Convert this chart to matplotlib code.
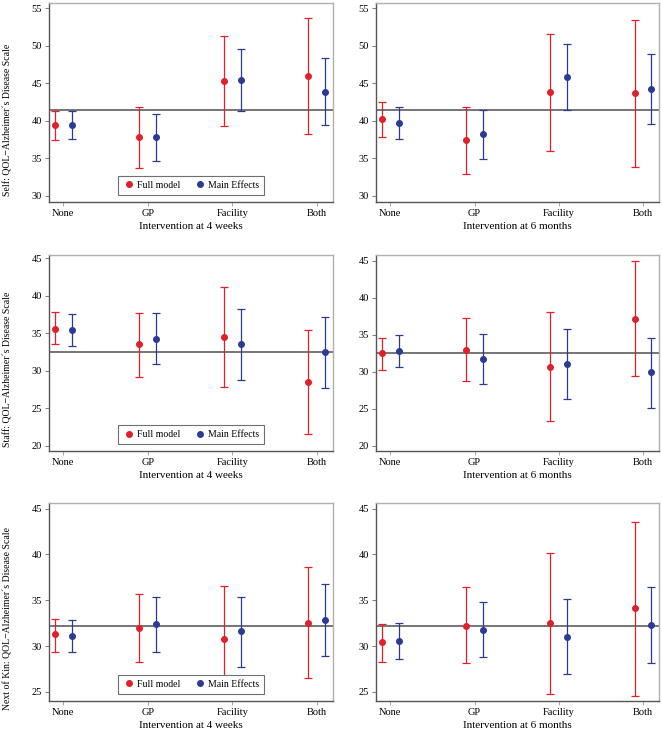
import matplotlib
matplotlib.use("Agg")
import matplotlib.pyplot as plt
from matplotlib.lines import Line2D

plt.rcParams['font.family'] = ['Liberation Serif', 'DejaVu Serif']

# categories and labels
categories = ["None", "GP", "Facility", "Both"]
periods = ["Intervention at 4 weeks", "Intervention at 6 months"]
raters = ["Self", "Staff", "Next of Kin"]
ref_lines = [41.4, 32.5, 32.2]

# Self, 4 weeks
self_4w_full = [39.4, 37.9, 45.3, 46.0]
self_4w_full_lo = [37.4, 33.7, 39.3, 38.2]
self_4w_full_hi = [41.3, 41.9, 51.3, 53.7]
self_4w_main = [39.4, 37.9, 45.5, 43.9]
self_4w_main_lo = [37.6, 34.7, 41.3, 39.4]
self_4w_main_hi = [41.3, 40.9, 49.6, 48.4]

# Self, 6 months
self_6m_full = [40.2, 37.4, 43.8, 43.7]
self_6m_full_lo = [37.8, 32.9, 36.0, 33.9]
self_6m_full_hi = [42.5, 41.8, 51.6, 53.5]
self_6m_main = [39.7, 38.2, 45.8, 44.2]
self_6m_main_lo = [37.6, 34.9, 41.4, 39.6]
self_6m_main_hi = [41.9, 41.4, 50.2, 48.9]

# Staff, 4 weeks
staff_4w_full = [35.6, 33.5, 34.5, 28.5]
staff_4w_full_lo = [33.5, 29.2, 27.8, 21.6]
staff_4w_full_hi = [37.8, 37.7, 41.1, 35.4]
staff_4w_main = [35.4, 34.2, 33.6, 32.5]
staff_4w_main_lo = [33.3, 30.9, 28.8, 27.7]
staff_4w_main_hi = [37.5, 37.7, 38.2, 37.1]

# Staff, 6 months
staff_6m_full = [32.5, 32.9, 30.7, 37.1]
staff_6m_full_lo = [30.2, 28.7, 23.4, 29.4]
staff_6m_full_hi = [34.6, 37.3, 38.0, 44.9]
staff_6m_main = [32.8, 31.7, 31.0, 29.9]
staff_6m_main_lo = [30.7, 28.3, 26.3, 25.1]
staff_6m_main_hi = [35.0, 35.1, 35.7, 34.6]

# Next of kin, 4 weeks
kin_4w_full = [31.3, 32.0, 30.8, 32.5]
kin_4w_full_lo = [29.4, 28.3, 25.1, 26.5]
kin_4w_full_hi = [33.0, 35.7, 36.5, 38.6]
kin_4w_main = [31.1, 32.4, 31.6, 32.8]
kin_4w_main_lo = [29.4, 29.4, 27.7, 28.9]
kin_4w_main_hi = [32.8, 35.3, 35.4, 36.8]

# Next of kin, 6 months
kin_6m_full = [30.4, 32.2, 32.5, 34.1]
kin_6m_full_lo = [28.3, 28.1, 24.8, 24.6]
kin_6m_full_hi = [32.4, 36.4, 40.2, 43.5]
kin_6m_main = [30.6, 31.8, 31.0, 32.3]
kin_6m_main_lo = [28.6, 28.8, 27.0, 28.2]
kin_6m_main_hi = [32.5, 34.8, 35.1, 36.4]

panels = [
    [(self_4w_full, self_4w_full_lo, self_4w_full_hi, self_4w_main, self_4w_main_lo, self_4w_main_hi),
     (self_6m_full, self_6m_full_lo, self_6m_full_hi, self_6m_main, self_6m_main_lo, self_6m_main_hi)],
    [(staff_4w_full, staff_4w_full_lo, staff_4w_full_hi, staff_4w_main, staff_4w_main_lo, staff_4w_main_hi),
     (staff_6m_full, staff_6m_full_lo, staff_6m_full_hi, staff_6m_main, staff_6m_main_lo, staff_6m_main_hi)],
    [(kin_4w_full, kin_4w_full_lo, kin_4w_full_hi, kin_4w_main, kin_4w_main_lo, kin_4w_main_hi),
     (kin_6m_full, kin_6m_full_lo, kin_6m_full_hi, kin_6m_main, kin_6m_main_lo, kin_6m_main_hi)],
]

ylims = [[(29.2, 55.7), (29.2, 55.7)],
         [(19.3, 45.4), (19.3, 45.75)],
         [(24.0, 45.6), (24.0, 45.6)]]
yticks = [[30, 35, 40, 45, 50, 55], [20, 25, 30, 35, 40, 45], [25, 30, 35, 40, 45]]

RED = "#e0202a"
BLUE = "#2b3b94"

W, H = 662, 732
fig = plt.figure(figsize=(W / 100, H / 100), dpi=100)

col_x = [(49, 333), (376, 659)]
row_y = [(3, 202), (255, 451), (503, 701)]


def draw_series(ax, x, est, lo, hi, color):
    yerr = [[e - l for e, l in zip(est, lo)], [h - e for e, h in zip(est, hi)]]
    ax.errorbar(x, est, yerr=yerr, fmt='o', color=color, ecolor=color,
                markersize=4, elinewidth=0.9, capsize=2.6, capthick=0.9, zorder=3)


for r in range(3):
    for c in range(2):
        x0, x1 = col_x[c]
        y0, y1 = row_y[r]
        ax = fig.add_axes([x0 / W, 1 - y1 / H, (x1 - x0) / W, (y1 - y0) / H])
        full, full_lo, full_hi, main, main_lo, main_hi = panels[r][c]
        idx = list(range(len(categories)))
        draw_series(ax, [i - 0.1 for i in idx], full, full_lo, full_hi, RED)
        draw_series(ax, [i + 0.1 for i in idx], main, main_lo, main_hi, BLUE)
        ax.axhline(ref_lines[r], color="#505050", lw=1.1, zorder=2)

        ax.set_xlim(-0.17, 3.19)
        ax.set_ylim(*ylims[r][c])
        ax.set_xticks(idx)
        ax.set_xticklabels(categories)
        ax.set_yticks(yticks[r])
        ax.tick_params(axis='both', labelsize=7.5, length=3, width=0.6, pad=2)
        ax.tick_params(axis='x', colors="#999999", labelcolor="black")
        ax.tick_params(axis='y', colors="#666666", labelcolor="black")
        ax.set_xlabel(periods[c], fontsize=8, labelpad=3)

        for side in ("left", "bottom"):
            ax.spines[side].set_color("#555555")
            ax.spines[side].set_linewidth(1.0)
        for side in ("top", "right"):
            ax.spines[side].set_color("#b0b0b0")
            ax.spines[side].set_linewidth(1.0)

        if c == 0:
            ax.set_ylabel(raters[r] + ": QOL\u2212Alzheimer\u00b4s Disease Scale", fontsize=7)
            # label sits a bit below the middle of the axis in the original
            ax.yaxis.set_label_coords(-36 / (x1 - x0), 0.415)
            handles = [Line2D([], [], marker='o', ls='none', color=RED, markersize=4),
                       Line2D([], [], marker='o', ls='none', color=BLUE, markersize=4)]
            leg = ax.legend(handles, ["Full model", "Main Effects"], loc='lower center',
                            bbox_to_anchor=(0.5, 0.012), ncol=2, fontsize=7,
                            fancybox=False, framealpha=1, edgecolor="#707070",
                            handletextpad=0.2, columnspacing=1.4, borderpad=0.5,
                            handlelength=1.2)
            leg.get_frame().set_linewidth(0.8)
            leg.set_zorder(5)

fig.savefig("out.png", dpi=100)
